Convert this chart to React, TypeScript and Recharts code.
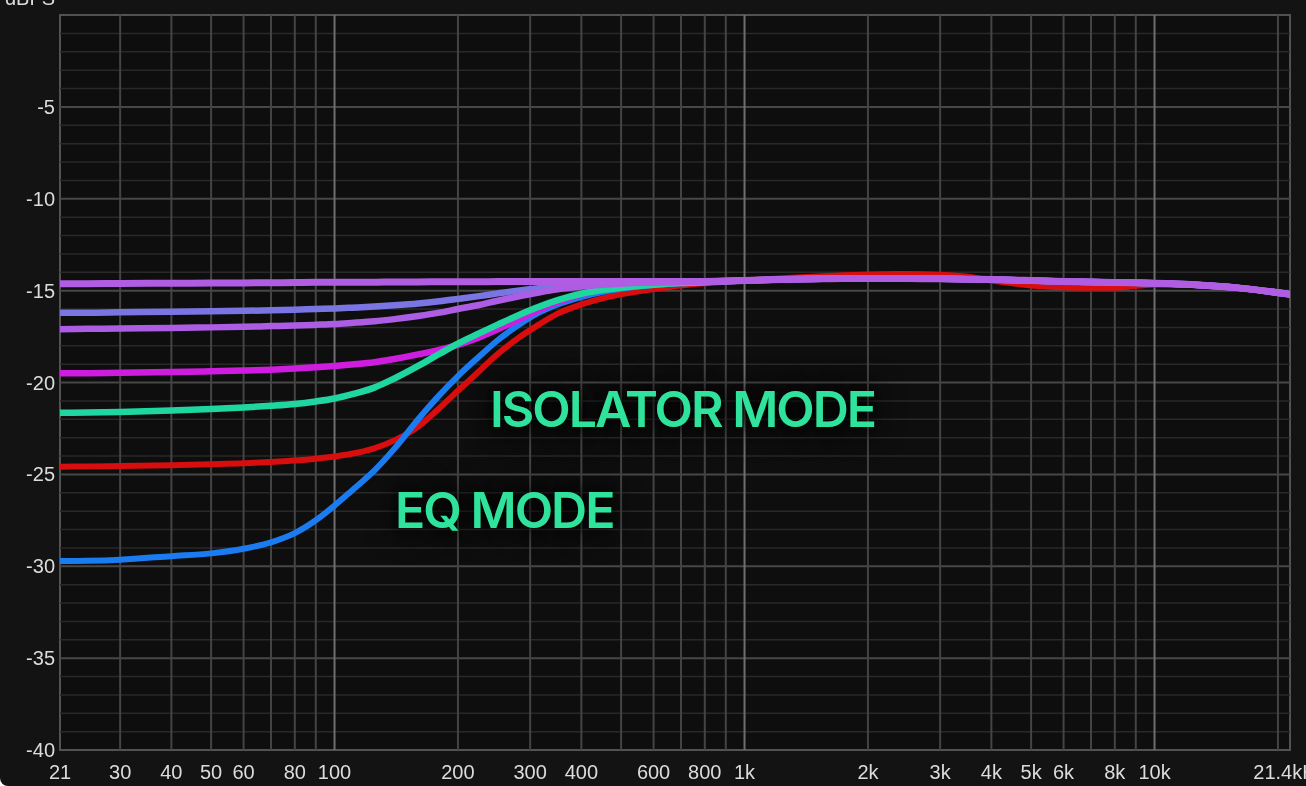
import { LineChart, Line, XAxis, YAxis, ReferenceLine, ReferenceArea } from 'recharts';

// frequency points (Hz) shared by every curve
const FREQS = [
  21.4, 25, 30, 40, 50, 60, 70, 80, 90, 100, 110, 125, 140, 160, 180, 200, 225, 250, 280, 315,
  350, 400, 450, 500, 600, 700, 800, 1000, 1300, 1600, 2000, 2500, 3000, 3500, 4000, 5000,
  6000, 7000, 8000, 10000, 12500, 16000, 21400,
];

// dBFS response curves
const PURPLE_TOP = [
  -14.62, -14.62, -14.61, -14.6, -14.59, -14.58, -14.57, -14.56, -14.55, -14.55, -14.54, -14.54,
  -14.53, -14.53, -14.52, -14.52, -14.52, -14.51, -14.51, -14.5, -14.5, -14.5, -14.5, -14.5, -14.5,
  -14.5, -14.5, -14.45, -14.38, -14.35, -14.34, -14.34, -14.36, -14.38, -14.4, -14.45, -14.5,
  -14.53, -14.56, -14.6, -14.68, -14.85, -15.2,
];
const LAVENDER = [
  -16.2, -16.2, -16.18, -16.15, -16.12, -16.1, -16.07, -16.04, -16.0, -15.97, -15.93, -15.87,
  -15.8, -15.7, -15.58, -15.45, -15.3, -15.15, -15.0, -14.87, -14.77, -14.68, -14.62, -14.58,
  -14.54, -14.52, -14.5, -14.45, -14.38, -14.35, -14.34, -14.34, -14.36, -14.38, -14.4, -14.45,
  -14.5, -14.53, -14.56, -14.6, -14.68, -14.85, -15.2,
];
const PURPLE_LOW = [
  -17.1, -17.08, -17.06, -17.03, -17.0, -16.97, -16.93, -16.9, -16.86, -16.82, -16.76, -16.67,
  -16.55, -16.38, -16.2, -16.0, -15.78, -15.55, -15.32, -15.1, -14.93, -14.78, -14.68, -14.62,
  -14.56, -14.53, -14.51, -14.45, -14.38, -14.35, -14.34, -14.34, -14.36, -14.38, -14.4, -14.45,
  -14.5, -14.53, -14.56, -14.6, -14.68, -14.85, -15.2,
];
const MAGENTA = [
  -19.5, -19.49, -19.47, -19.43, -19.39, -19.35, -19.3, -19.24, -19.17, -19.1, -19.02, -18.9,
  -18.72, -18.47, -18.22, -17.95, -17.55, -17.1, -16.6, -16.05, -15.62, -15.2, -14.95, -14.8,
  -14.65, -14.57, -14.53, -14.45, -14.38, -14.35, -14.34, -14.34, -14.36, -14.38, -14.4, -14.45,
  -14.5, -14.53, -14.56, -14.6, -14.68, -14.85, -15.2,
];
const TEAL = [
  -21.65, -21.63, -21.6, -21.52, -21.44, -21.36, -21.27, -21.17, -21.03, -20.87, -20.65, -20.28,
  -19.78, -19.1, -18.45, -17.88, -17.33, -16.85, -16.35, -15.88, -15.52, -15.17, -14.97, -14.84,
  -14.68, -14.59, -14.54, -14.45, -14.38, -14.35, -14.34, -14.34, -14.36, -14.38, -14.4, -14.45,
  -14.5, -14.53, -14.56, -14.6, -14.68, -14.85, -15.2,
];
const RED = [
  -24.58, -24.57, -24.55, -24.5, -24.45, -24.4, -24.33, -24.25, -24.15, -24.03, -23.88, -23.58,
  -23.15, -22.4, -21.4, -20.45, -19.4, -18.45, -17.6, -16.85, -16.25, -15.75, -15.42, -15.2,
  -14.92, -14.72, -14.6, -14.45, -14.3, -14.2, -14.12, -14.1, -14.13, -14.25, -14.45, -14.72,
  -14.82, -14.85, -14.84, -14.66, -14.7, -14.86, -15.2,
];
const BLUE = [
  -29.72, -29.7, -29.64, -29.45, -29.3, -29.05, -28.7, -28.2, -27.5, -26.7, -25.9, -24.8, -23.6,
  -22.0, -20.7, -19.65, -18.6, -17.7, -16.9, -16.2, -15.75, -15.35, -15.08, -14.9, -14.7, -14.6,
  -14.54, -14.45, -14.38, -14.35, -14.34, -14.34, -14.36, -14.38, -14.4, -14.45, -14.5, -14.53,
  -14.56, -14.6, -14.68, -14.85, -15.2,
];

const X_TICKS = [21.4, 30, 40, 50, 60, 80, 100, 200, 300, 400, 600, 800, 1000, 2000, 3000, 4000, 5000, 6000, 8000, 10000, 21400];
const Y_TICKS = [-40, -35, -30, -25, -20, -15, -10, -5];
const GRID_MINOR_F = [30, 40, 50, 60, 70, 80, 90, 200, 300, 400, 500, 600, 700, 800, 900, 2000, 3000, 4000, 5000, 6000, 7000, 8000, 9000, 20000];
const GRID_DECADE_F = [100, 1000, 10000];
const GRID_MINOR_DB = [-39, -38, -37, -36, -34, -33, -32, -31, -29, -28, -27, -26, -24, -23, -22, -21, -19, -18, -17, -16, -14, -13, -12, -11, -9, -8, -7, -6, -4, -3, -2, -1];
const GRID_MAJOR_DB = [-35, -30, -25, -20, -15, -10, -5];

const SERIES = [
  { key: 'red', values: RED, color: '#d80d0d', width: 6 },
  { key: 'blue', values: BLUE, color: '#1b7cf2', width: 6 },
  { key: 'magenta', values: MAGENTA, color: '#cf1de0', width: 6.5 },
  { key: 'teal', values: TEAL, color: '#1fd6a0', width: 6.5 },
  { key: 'lavender', values: LAVENDER, color: '#7b75e4', width: 6.5 },
  { key: 'purpleLow', values: PURPLE_LOW, color: '#ac5de4', width: 6.5 },
  { key: 'purpleTop', values: PURPLE_TOP, color: '#b15de3', width: 7 },
];

const data = FREQS.map((f, i) => {
  const row: Record<string, number> = { f };
  SERIES.forEach((s) => {
    row[s.key] = s.values[i];
  });
  return row;
});

const formatFreq = (f: number) => {
  if (f === 21.4) return '21';
  if (f === 21400) return '21.4kHz';
  if (f >= 1000) return `${f / 1000}k`;
  return `${f}`;
};

const labelStyle: React.CSSProperties = {
  position: 'absolute',
  fontFamily: 'Inter, "Noto Sans", sans-serif',
  fontWeight: 600,
  fontSize: 50,
  lineHeight: '50px',
  letterSpacing: '-2px',
  color: '#30e39c',
  whiteSpace: 'nowrap',
  textShadow: '0 0 16px rgba(0,0,0,0.95), 0 0 32px rgba(0,0,0,0.8)',
};

export default function App() {
  const tickStyle = { fill: '#dcdcdc', fontSize: 20, fontFamily: '"Liberation Sans", Arial, sans-serif' };

  return (
    <div
      style={{
        position: 'fixed',
        top: 0,
        left: 0,
        width: 1306,
        height: 786,
        background: '#131313',
        overflow: 'hidden',
        borderBottomLeftRadius: 8,
      }}
    >
      <div
        style={{
          position: 'absolute',
          top: -12,
          left: 0,
          width: 55,
          textAlign: 'right',
          fontSize: 20,
          lineHeight: '20px',
          color: '#dcdcdc',
          fontFamily: '"Liberation Sans", Arial, sans-serif',
        }}
      >
        dBFS
      </div>
      <LineChart width={1306} height={786} data={data} margin={{ top: 15, right: 16, bottom: 0, left: 0 }}>
        <XAxis
          dataKey="f"
          type="number"
          scale="log"
          domain={[21.4, 21400]}
          ticks={X_TICKS}
          interval={0}
          tickFormatter={formatFreq}
          axisLine={false}
          tickLine={false}
          tickSize={0}
          tickMargin={15}
          height={36}
          tick={tickStyle}
          allowDataOverflow
        />
        <YAxis
          type="number"
          domain={[-40, 0]}
          ticks={Y_TICKS}
          interval={0}
          axisLine={false}
          tickLine={false}
          tickSize={0}
          tickMargin={5}
          width={60}
          tick={tickStyle}
          allowDataOverflow
        />
        <ReferenceArea x1={21.4} x2={21400} y1={-40} y2={0} fill="#0e0e0e" fillOpacity={1} stroke="none" />
        {GRID_MINOR_DB.map((v) => (
          <ReferenceLine key={`h${v}`} y={v} stroke="#292929" strokeWidth={1.5} />
        ))}
        {GRID_MAJOR_DB.map((v) => (
          <ReferenceLine key={`H${v}`} y={v} stroke="#474747" strokeWidth={2} />
        ))}
        {GRID_MINOR_F.map((v) => (
          <ReferenceLine key={`v${v}`} x={v} stroke="#444444" strokeWidth={2} />
        ))}
        {GRID_DECADE_F.map((v) => (
          <ReferenceLine key={`V${v}`} x={v} stroke="#6e6e6e" strokeWidth={2} />
        ))}
        <ReferenceArea x1={21.4} x2={21400} y1={-40} y2={0} fill="none" stroke="#525252" strokeWidth={2} />
        {SERIES.map((s) => (
          <Line
            key={s.key}
            dataKey={s.key}
            type="monotone"
            stroke={s.color}
            strokeWidth={s.width}
            strokeLinecap="round"
            dot={false}
            activeDot={false}
            isAnimationActive={false}
          />
        ))}
      </LineChart>
      <div style={{ ...labelStyle, left: 490, top: 384 }}>ISOLATOR MODE</div>
      <div style={{ ...labelStyle, left: 395, top: 485 }}>EQ MODE</div>
    </div>
  );
}
